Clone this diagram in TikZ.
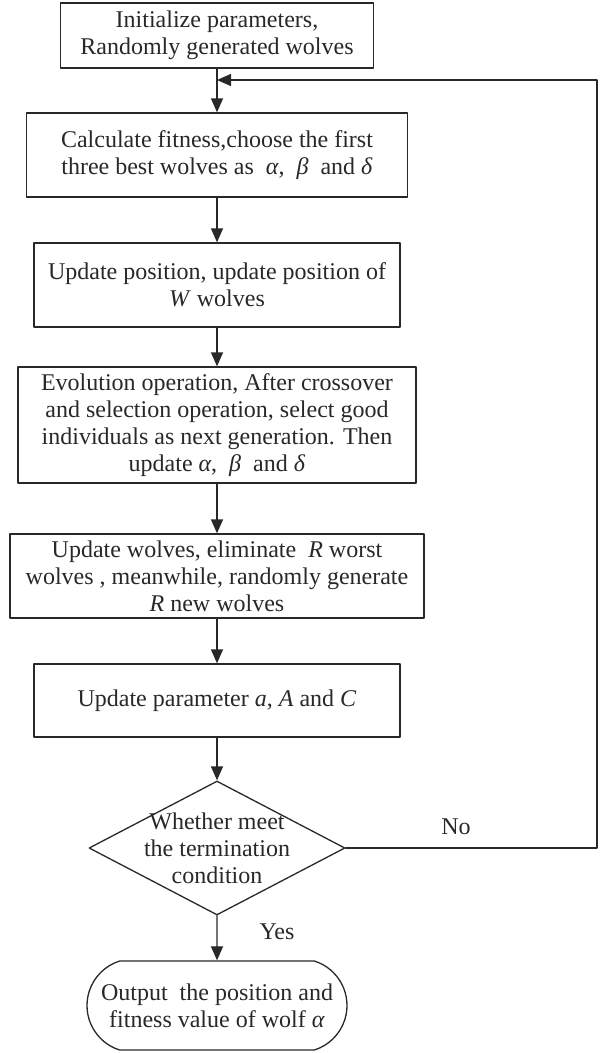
\documentclass[tikz,border=0pt]{standalone}
\usepackage{fontspec}
\setmainfont{Liberation Serif}
\usepackage{pgf,tikz}
\usetikzlibrary{arrows.meta}
\usetikzlibrary{shapes.geometric,shapes.misc}
\usepackage{color}
\definecolor{ink}{RGB}{40,40,40}

\tikzset{
  box/.style={draw=ink,line width=1.3pt,rectangle,inner sep=0pt,align=center},
  decision/.style={draw=ink,line width=1.3pt,diamond,inner sep=0pt,minimum width=256pt,minimum height=134pt},
  terminal/.style={draw=ink,line width=1.3pt,rounded rectangle,rounded rectangle arc length=145,inner sep=0pt,align=center},
  flow/.style={draw=ink,line width=1.3pt,->}
}

\begin{document}
\begin{tikzpicture}[line cap=round,line join=round,>={Triangle[length=14pt,width=12pt]},x=1pt,y=-1pt,
  every node/.append style={font=\fontsize{24}{27}\selectfont,text=ink}]
\useasboundingbox (0,0) rectangle (601,1053);
%
\node[box,minimum width=313pt,minimum height=65pt] (init) at (217,35.5) {Initialize parameters,\\Randomly generated wolves};
\node[box,minimum width=381pt,minimum height=84pt] (fit) at (217,155) {Calculate fitness,choose the first\\three best wolves as \ \textit{α}, \ \textit{β} \ and \textit{δ}};
\node[box,minimum width=366pt,minimum height=84pt] (pos) at (217,285) {Update position, update position of\\\textit{W} wolves};
\node[box,minimum width=398pt,minimum height=116pt] (evo) at (217,425) {Evolution operation, After crossover\\and selection operation, select good\\individuals as next generation. Then\\update \textit{α}, \ \textit{β} \ and \textit{δ}};
\node[box,minimum width=414pt,minimum height=84pt] (elim) at (217,576) {Update wolves, eliminate \ \textit{R} worst\\wolves , meanwhile, randomly generate\\\textit{R} new wolves};
\node[box,minimum width=366pt,minimum height=73pt] (param) at (217,700.5) {Update parameter \textit{a}, \textit{A} and \textit{C}};
\node[decision] (cond) at (217,848) {};
\node[align=center,inner sep=0pt] (condtext) at (cond.center) {Whether meet\\the termination\\condition};
\node[terminal,minimum width=260pt,minimum height=89pt] (out) at (217,1005.5) {Output \ the position and\\fitness value of wolf \textit{α}};
%
\coordinate (loop) at (597,80);
\coordinate (join) at (217,80);
%
\draw[flow] (init) -- (fit);
\draw[flow] (fit) -- (pos);
\draw[flow] (pos) -- (evo);
\draw[flow] (evo) -- (elim);
\draw[flow] (elim) -- (param);
\draw[flow] (param) -- (cond);
\draw[flow] (cond) -- (out);
\draw[flow] (cond.east) -- (cond.east -| loop) -- (loop) -- (join);
%
\node (no) at (456,827) {No};
\node (yes) at (277,932) {Yes};
\end{tikzpicture}
\end{document}
